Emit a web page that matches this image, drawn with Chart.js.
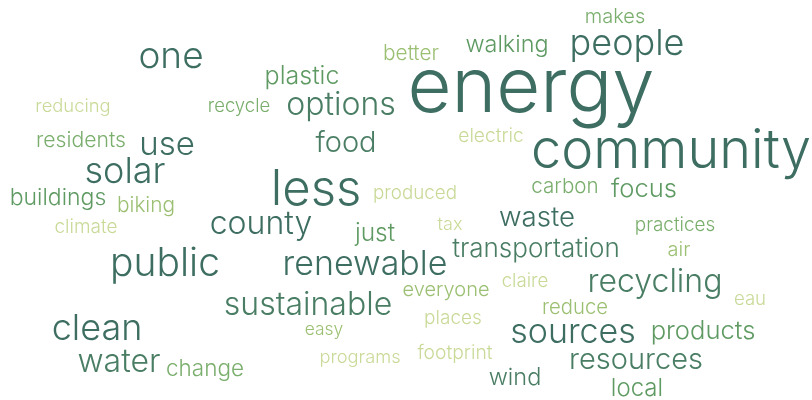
<!DOCTYPE html>
<html>
<head>
<meta charset="utf-8">
<script src="https://cdn.jsdelivr.net/npm/chart.js@4/dist/chart.umd.min.js"></script>
<style>
  body { margin: 0; background: #fff; }
  #wrap { width: 812px; height: 400px; }
</style>
</head>
<body>
<div id="wrap"><canvas id="cloud"></canvas></div>
<script>
// words and how often they came up (weight ~ font size)
const words = ["energy", "community", "less", "people", "one", "public", "renewable", "recycling",
  "sustainable", "clean", "sources", "resources", "water", "solar", "use", "options", "food",
  "plastic", "county", "focus", "waste", "transportation", "products", "walking", "carbon", "just",
  "residents", "buildings", "biking", "wind", "local", "change", "makes", "better", "recycle",
  "reducing", "electric", "produced", "climate", "tax", "practices", "air", "everyone", "claire",
  "reduce", "eau", "places", "easy", "programs", "footprint"];
const weights = [76, 54, 49, 36, 37, 39, 34, 32, 32, 36, 34, 29, 32, 36, 33, 32, 29,
  25, 32, 25.6, 27.7, 26, 25.6, 23.4, 20.6, 24.5, 21.2, 23, 20.8, 23.5, 24, 22.5, 20, 20.8, 18.5,
  18.4, 19.2, 18.8, 19, 18, 18.9, 20, 20, 18.7, 20.3, 18.6, 19, 17.4, 18.3, 19.3];

// where each word sits in the cloud (x = centre, y = baseline)
const xs = [531, 671, 316, 627, 171, 165, 365, 655, 308, 97, 573, 636, 119, 125, 167, 341, 346,
  302, 261, 644, 537, 536, 703, 507, 565, 375, 81, 58, 146, 515, 637, 205, 615, 411, 239,
  73, 491, 415, 86, 450, 675, 679, 446, 525, 575, 750, 453, 324, 360, 455];
const ys = [112, 168, 205, 55, 68, 276, 275, 292, 315, 340, 343, 369, 372, 183, 155, 115, 152,
  84, 234, 197, 226, 257, 339, 52, 193, 241, 147, 205, 212, 385, 396, 376, 23, 60, 112,
  112, 142, 199, 233, 230, 231, 256, 296, 287, 314, 305, 324, 335, 363, 359];

const shades = ["#3d6e61", "#4a7e64", "#5e9a62", "#7aae6c", "#9cc073", "#c9da98"];
const shadeIdx = [0, 0, 0, 0, 0, 0, 0, 1, 1, 0, 0, 1, 1, 0, 0, 1, 1,
  2, 0, 2, 0, 1, 2, 2, 3, 2, 3, 2, 4, 1, 2, 3, 3, 4, 3,
  5, 5, 5, 5, 5, 3, 4, 4, 5, 4, 5, 5, 4, 5, 5];

const points = words.map((w, i) => ({ x: xs[i], y: ys[i] }));

// draws each word at its point position
const wordPlugin = {
  id: "words",
  afterDatasetsDraw(chart) {
    const ctx = chart.ctx;
    const meta = chart.getDatasetMeta(0);
    ctx.save();
    ctx.textAlign = "center";
    ctx.textBaseline = "alphabetic";
    meta.data.forEach((pt, i) => {
      ctx.font = "300 " + weights[i] + "px Inter";
      ctx.fillStyle = shades[shadeIdx[i]];
      ctx.fillText(words[i], pt.x, pt.y);
    });
    ctx.restore();
  }
};

new Chart(document.getElementById("cloud"), {
  type: "scatter",
  data: {
    datasets: [{
      data: points,
      pointRadius: 0,
      pointHoverRadius: 0
    }]
  },
  options: {
    responsive: true,
    maintainAspectRatio: false,
    animation: false,
    layout: { padding: 0 },
    plugins: { legend: { display: false }, tooltip: { enabled: false } },
    scales: {
      x: { type: "linear", min: 0, max: 812, display: false },
      y: { type: "linear", min: 0, max: 400, reverse: true, display: false }
    }
  },
  plugins: [wordPlugin]
});
</script>
</body>
</html>
